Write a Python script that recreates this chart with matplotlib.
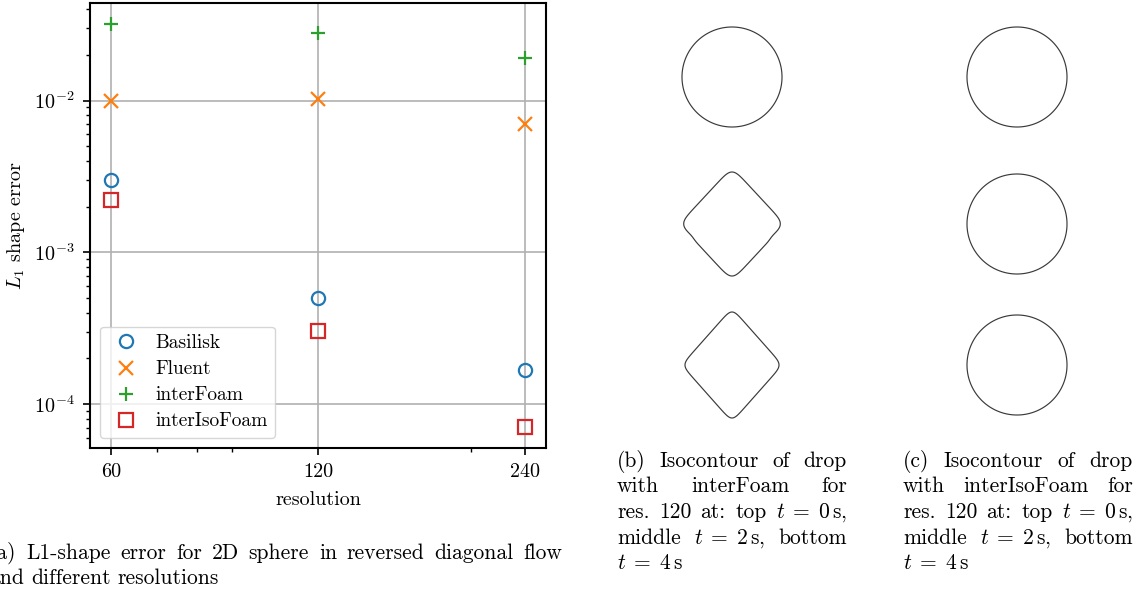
import numpy as np
import matplotlib
matplotlib.use('Agg')
import matplotlib.pyplot as plt

plt.rcParams['font.family'] = 'cmr10'
plt.rcParams['mathtext.fontset'] = 'cm'
plt.rcParams['axes.formatter.use_mathtext'] = True
plt.rcParams['axes.unicode_minus'] = False

W, H = 1137, 592

# L1 shape error per solver and resolution
resolution = [60, 120, 240]
basilisk = [3.0e-3, 5.03e-4, 1.67e-4]
fluent = [1.0e-2, 1.03e-2, 7.05e-3]
interfoam = [3.21e-2, 2.80e-2, 1.92e-2]
interisofoam = [2.2e-3, 3.03e-4, 7.1e-5]

# drop outline at t = 0, 2, 4 s: (half width, half height, squareness, dent depth)
drop_interfoam = [(0.150, 0.150, 2.0, 0.0), (0.145, 0.156, 8.0, 0.022), (0.141, 0.159, 10.0, 0.0)]
drop_interisofoam = [(0.150, 0.150, 2.0, 0.0), (0.150, 0.150, 2.0, 0.0), (0.150, 0.150, 2.0, 0.0)]


def px(x, y):
    return x / W, 1 - y / H


def outline(hw, hh, p, dent, n=720):
    phi = np.linspace(0, 2 * np.pi, n, endpoint=False)
    if p == 2.0:
        return hw * np.cos(phi), hh * np.sin(phi)
    c, s = np.cos(phi), np.sin(phi)
    u = np.sign(c) * np.abs(c) ** (2 / p)
    v = np.sign(s) * np.abs(s) ** (2 / p)
    norm = 2 ** (0.5 - 1 / p)
    x = (u - v) / np.sqrt(2) / norm
    y = (u + v) / np.sqrt(2) / norm
    if dent:
        # small kinks on the lower part of the left and right flanks
        ang = np.arctan2(y, x)
        d_right = np.angle(np.exp(1j * (ang + 0.25)))
        d_left = np.angle(np.exp(1j * (ang - np.pi - 0.25)))
        k = 1 - dent * (np.exp(-(d_right / 0.14) ** 2) + np.exp(-(d_left / 0.14) ** 2))
        x, y = x * k, y * k
    return hw * x, hh * y


def put_line(fig, words, x0, x1, y, justify, size):
    r = fig.canvas.get_renderer()
    texts = [fig.text(0, 0, w, ha='left', va='baseline', fontsize=size) for w in words]
    widths = [t.get_window_extent(r).width for t in texts]
    if justify and len(words) > 1:
        gap = (x1 - x0 - sum(widths)) / (len(words) - 1)
    else:
        gap = size * 100 / 72 * 0.333
    x = x0
    for t, w in zip(texts, widths):
        t.set_position(px(x, y))
        x += w + gap


fig = plt.figure(figsize=(W / 100, H / 100), dpi=100)

# (a) error vs resolution
ax = fig.add_axes([90 / W, 1 - 448 / H, 456 / W, 445 / H])
ax.plot(resolution, basilisk, 'o', ms=9.5, mew=1.6, mfc='none', color='tab:blue', label='Basilisk', zorder=3)
ax.plot(resolution, fluent, 'x', ms=10, mew=1.6, color='tab:orange', label='Fluent', zorder=3)
ax.plot(resolution, interfoam, '+', ms=10, mew=1.6, color='tab:green', label='interFoam', zorder=3)
ax.plot(resolution, interisofoam, 's', ms=9.5, mew=1.6, mfc='none', color='tab:red', label='interIsoFoam', zorder=3)
ax.set_xscale('log')
ax.set_yscale('log')
ax.set_xticks(resolution)
ax.set_xticklabels([str(r) for r in resolution])
ax.xaxis.set_minor_formatter(matplotlib.ticker.NullFormatter())
ax.set_ylim(10 ** -4.29, 10 ** -1.357)
ax.grid(True, which='major', color='#b0b0b0', lw=1.2)
for sp in ax.spines.values():
    sp.set_linewidth(1.5)
ax.tick_params(which='major', length=5, width=1.2, labelsize=14.5, pad=6)
ax.tick_params(which='minor', length=3, width=1.0)
ax.set_xlabel('resolution', fontsize=14.5, labelpad=7)
ax.set_ylabel('$L_1$ shape error', fontsize=14.5, labelpad=5)
ax.legend(loc='lower left', fontsize=14, labelspacing=0.42, handlelength=1.9, handletextpad=0.55,
          borderpad=0.4, borderaxespad=0.5)

# (b), (c) drop outlines
for cx, shapes in [(732, drop_interfoam), (1017, drop_interisofoam)]:
    for cy, sh in zip([77, 224, 365], shapes):
        sa = fig.add_axes([(cx - 65) / W, 1 - (cy + 65) / H, 130 / W, 130 / H])
        xs, ys = outline(*sh)
        sa.fill(xs, ys, fc='none', ec='#3a3a3a', lw=0.85)
        sa.set_xlim(-0.195, 0.195)
        sa.set_ylim(-0.195, 0.195)
        sa.axis('off')

fs = 15.5
put_line(fig, ['(a)', 'L1-shape', 'error', 'for', '2D', 'sphere', 'in', 'reversed', 'diagonal', 'flow'], -11, 562, 559, True, fs)
put_line(fig, ['and', 'different', 'resolutions'], -11, 562, 584, False, fs)

t0 = r'$t\;=\;0\,\mathrm{s}$,'
t2 = r'$t\;=\;2\,\mathrm{s}$,'
t4 = r'$t\;=\;4\,\mathrm{s}$'
cap_b = [['(b)', 'Isocontour', 'of', 'drop'],
         ['with', 'interFoam', 'for'],
         ['res.', '120', 'at:', 'top', t0],
         ['middle', t2, 'bottom'],
         [t4]]
cap_c = [['(c)', 'Isocontour', 'of', 'drop'],
         ['with', 'interIsoFoam', 'for'],
         ['res.', '120', 'at:', 'top', t0],
         ['middle', t2, 'bottom'],
         [t4]]
for x0, x1, cap in [(617, 847, cap_b), (903, 1133, cap_c)]:
    for i, words in enumerate(cap):
        put_line(fig, words, x0, x1, 467 + 25.5 * i, i < len(cap) - 1, fs)

fig.savefig('out.png', dpi=100)
